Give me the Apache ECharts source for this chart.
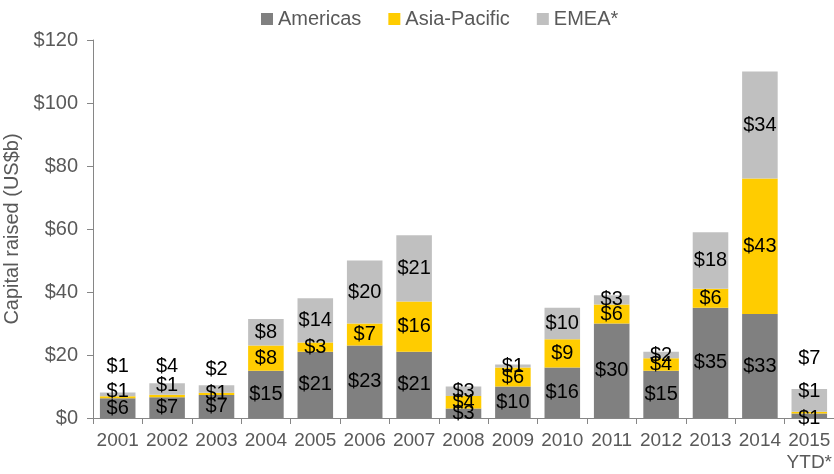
<!DOCTYPE html>
<html lang="en">
    <head>
        <meta charset="UTF-8" />
        <title>Capital raised</title>
        <script src="https://cdn.jsdelivr.net/npm/echarts@6/dist/echarts.min.js"></script>
        <style>
            html, body { margin: 0; padding: 0; background: #fff; }
            #chart { width: 834px; height: 474px; }
        </style>
    </head>
    <body>
        <div id="chart"></div>
        <script>
            var years = ['2001', '2002', '2003', '2004', '2005', '2006', '2007', '2008',
                '2009', '2010', '2011', '2012', '2013', '2014', '2015\nYTD*'];
            var americas = [6.3, 6.6, 7.3, 15, 21, 23, 21, 3, 10, 16, 30, 15, 35, 33, 1.4];
            var asiaPacific = [0.6, 0.8, 0.7, 8, 3, 7, 16, 4, 6, 9, 6, 4, 6, 43, 0.6];
            var emea = [1.2, 3.6, 2.4, 8.4, 14, 20, 21, 3, 1, 10, 3, 2, 18, 34, 7.2];
            var yTicks = [0, 20, 40, 60, 80, 100, 120];

            // labels that Excel moved up off the thin segments
            var shift = {
                'Asia-Pacific': { 0: -6, 1: -10, 14: -21 },
                'EMEA*': { 0: -28, 1: -23, 2: -20, 14: -42 },
                'Americas': { 14: 3 }
            };

            var font = 'Liberation Sans, Arial, sans-serif';
            var grey = '#595959';

            function makeSeries(name, values, color) {
                var data = values.map(function (v, i) {
                    var item = { value: v };
                    if (shift[name] && shift[name][i] !== undefined) {
                        item.label = { offset: [0, shift[name][i]] };
                    }
                    return item;
                });
                return {
                    name: name,
                    type: 'bar',
                    stack: 'total',
                    barWidth: '72%',
                    itemStyle: { color: color },
                    label: {
                        show: true,
                        position: 'inside',
                        color: '#000',
                        fontFamily: font,
                        fontSize: 20,
                        formatter: function (p) {
                            return '$' + Math.round(p.value);
                        }
                    },
                    data: data
                };
            }

            var myChart = echarts.init(document.getElementById('chart'));
            var option = {
                animation: false,
                legend: {
                    top: 4,
                    left: 256,
                    icon: 'rect',
                    itemWidth: 12,
                    itemHeight: 12,
                    itemGap: 27,
                    textStyle: { color: grey, fontFamily: font, fontSize: 20 },
                    data: ['Americas', 'Asia-Pacific', 'EMEA*']
                },
                grid: { left: 93, right: 0, top: 40, bottom: 56, outerBoundsMode: 'none' },
                xAxis: {
                    type: 'category',
                    data: years,
                    axisLine: { lineStyle: { color: '#868686' } },
                    axisTick: { show: true, length: 6, lineStyle: { color: '#868686' } },
                    axisLabel: {
                        color: grey,
                        fontFamily: font,
                        fontSize: 19,
                        margin: 12,
                        interval: 0,
                        lineHeight: 22
                    }
                },
                yAxis: {
                    type: 'value',
                    min: yTicks[0],
                    max: yTicks[yTicks.length - 1],
                    interval: 20,
                    name: 'Capital raised (US$b)',
                    nameLocation: 'middle',
                    nameGap: 52,
                    nameTextStyle: { color: grey, fontFamily: font, fontSize: 20 },
                    splitLine: { show: false },
                    axisLine: { show: true, lineStyle: { color: '#868686' } },
                    axisTick: { show: true, length: 6, lineStyle: { color: '#868686' } },
                    axisLabel: {
                        color: grey,
                        fontFamily: font,
                        fontSize: 20,
                        margin: 15,
                        formatter: function (v) { return '$' + v; }
                    }
                },
                series: [
                    makeSeries('Americas', americas, '#808080'),
                    makeSeries('Asia-Pacific', asiaPacific, '#FFCC00'),
                    makeSeries('EMEA*', emea, '#C0C0C0')
                ]
            };
            myChart.setOption(option);
        </script>
    </body>
</html>
